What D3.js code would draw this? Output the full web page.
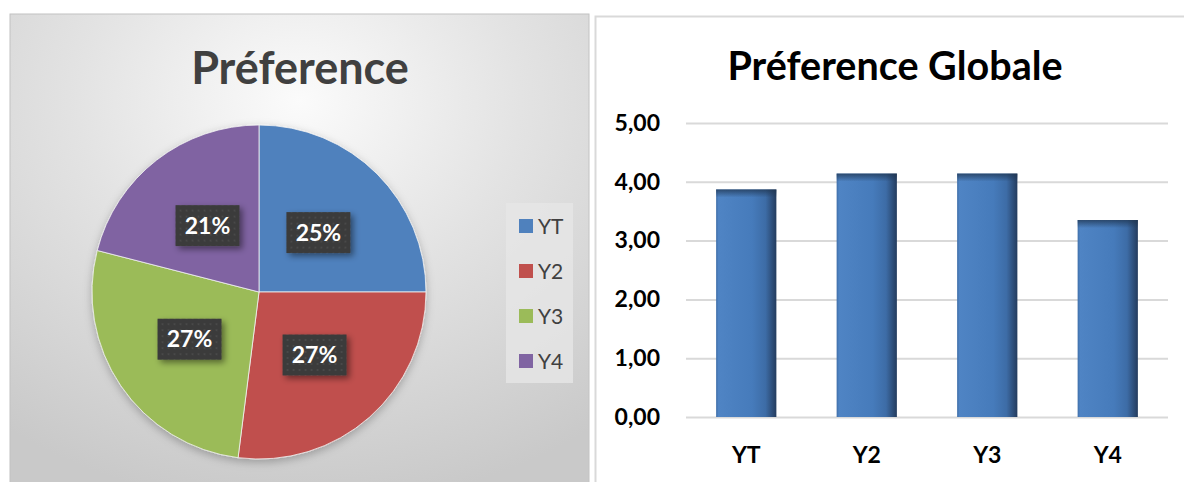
<!DOCTYPE html>
<html>
<head>
<meta charset="utf-8">
<script src="https://cdn.jsdelivr.net/npm/d3@7"></script>
<style>
  html, body { margin: 0; padding: 0; background: #fff; }
  svg { display: block; font-family: Lato, "Open Sans", sans-serif; }
</style>
</head>
<body>
<svg id="chart" width="1184" height="482"></svg>
<script>
// data
var categories = ['YT', 'Y2', 'Y3', 'Y4'];
var pieShares = [25, 27, 27, 21];          // % shown on the pie
var barValues = [3.87, 4.14, 4.14, 3.35];  // Préference Globale
var yTicks = [0, 1, 2, 3, 4, 5];
var pieColors = ['#4f81bd', '#c0504d', '#9bbb59', '#8064a2'];

var svg = d3.select('#chart');
var defs = svg.append('defs');

// background of left panel
var bg = defs.append('radialGradient').attr('id', 'panelBg')
	.attr('cx', 0.5).attr('cy', 0.18).attr('r', 0.85)
	.attr('gradientUnits', 'objectBoundingBox');
bg.append('stop').attr('offset', '0%').attr('stop-color', '#fbfbfb');
bg.append('stop').attr('offset', '45%').attr('stop-color', '#e3e3e3');
bg.append('stop').attr('offset', '100%').attr('stop-color', '#c9c9c9');

// dotted dark label boxes
var pat = defs.append('pattern').attr('id', 'dots')
	.attr('width', 6).attr('height', 6).attr('patternUnits', 'userSpaceOnUse');
pat.append('rect').attr('width', 6).attr('height', 6).attr('fill', '#3a3a3a');
pat.append('circle').attr('cx', 3).attr('cy', 3).attr('r', 1).attr('fill', '#4c4c4c');

var sh = defs.append('filter').attr('id', 'shadow')
	.attr('x', '-30%').attr('y', '-30%').attr('width', '170%').attr('height', '170%');
sh.append('feDropShadow').attr('dx', 3).attr('dy', 3).attr('stdDeviation', 3)
	.attr('flood-color', '#000').attr('flood-opacity', 0.45);

var pieSh = defs.append('filter').attr('id', 'pieShadow')
	.attr('x', '-10%').attr('y', '-10%').attr('width', '120%').attr('height', '125%');
pieSh.append('feDropShadow').attr('dx', 0).attr('dy', 3).attr('stdDeviation', 4)
	.attr('flood-color', '#000').attr('flood-opacity', 0.25);

// bar shading
var barGrad = defs.append('linearGradient').attr('id', 'barGrad')
	.attr('x1', 0).attr('x2', 1).attr('y1', 0).attr('y2', 0);
[['0%', '#3f6ea8'], ['4%', '#4f84c4'], ['60%', '#467bbb'], ['82%', '#3d6ca6'], ['100%', '#243c5e']]
	.forEach(function (s) { barGrad.append('stop').attr('offset', s[0]).attr('stop-color', s[1]); });
var barTop = defs.append('linearGradient').attr('id', 'barTop')
	.attr('x1', 0).attr('x2', 0).attr('y1', 0).attr('y2', 1);
barTop.append('stop').attr('offset', '0%').attr('stop-color', '#1f3550').attr('stop-opacity', 0.75);
barTop.append('stop').attr('offset', '100%').attr('stop-color', '#1f3550').attr('stop-opacity', 0);

// ---------- left panel : pie ----------
svg.append('rect')
	.attr('x', 10).attr('y', 14).attr('width', 579).attr('height', 480)
	.attr('fill', 'url(#panelBg)')
	.attr('stroke', '#c2c2c2').attr('stroke-width', 1);

svg.append('text')
	.attr('x', 300).attr('y', 84)
	.attr('text-anchor', 'middle')
	.style('font-size', '45px').style('font-weight', 700)
	.attr('fill', '#404040')
	.text('Préference');

var cx = 259, cy = 292, radius = 167;
var pie = d3.pie().sort(null).value(function (d) { return d; });
var arc = d3.arc().innerRadius(0).outerRadius(radius);
var labelArc = d3.arc().innerRadius(84).outerRadius(84);
var slices = pie(pieShares);

var pieG = svg.append('g').attr('transform', 'translate(' + cx + ',' + cy + ')');
pieG.append('g').attr('filter', 'url(#pieShadow)')
	.selectAll('path')
	.data(slices)
	.enter().append('path')
	.attr('d', arc)
	.attr('fill', function (d, i) { return pieColors[i]; })
	.attr('stroke', '#f2f2f2').attr('stroke-width', 0.8);

var lbl = pieG.selectAll('.lbl')
	.data(slices)
	.enter().append('g')
	.attr('class', 'lbl')
	.attr('transform', function (d) { var c = labelArc.centroid(d); return 'translate(' + c[0] + ',' + c[1] + ')'; });
lbl.append('rect')
	.attr('x', -32).attr('y', -20.5).attr('width', 64).attr('height', 41)
	.attr('fill', 'url(#dots)')
	.attr('filter', 'url(#shadow)');
lbl.append('text')
	.attr('text-anchor', 'middle').attr('dy', '0.36em')
	.attr('fill', '#fff')
	.style('font-size', '23px').style('font-weight', 700)
	.text(function (d) { return d.data + '%'; });

// legend
svg.append('rect')
	.attr('x', 506).attr('y', 203).attr('width', 67).attr('height', 180)
	.attr('fill', '#e6e6e6').attr('opacity', 0.8);
var legendY = d3.scalePoint().domain(categories).range([226, 361]);
var leg = svg.selectAll('.leg')
	.data(categories)
	.enter().append('g')
	.attr('class', 'leg')
	.attr('transform', function (d) { return 'translate(519,' + legendY(d) + ')'; });
leg.append('rect')
	.attr('x', 0).attr('y', -7).attr('width', 14).attr('height', 14)
	.attr('fill', function (d, i) { return pieColors[i]; });
leg.append('text')
	.attr('x', 19).attr('dy', '0.36em')
	.attr('fill', '#404040')
	.style('font-size', '21px')
	.text(function (d) { return d; });

// ---------- right panel : bars ----------
svg.append('path')
	.attr('d', 'M595.5,482V16.5H1184')
	.attr('fill', 'none').attr('stroke', '#d9d9d9').attr('stroke-width', 2);

svg.append('text')
	.attr('x', 895).attr('y', 80)
	.attr('text-anchor', 'middle')
	.style('font-size', '39.5px').style('font-weight', 700)
	.attr('fill', '#000')
	.text('Préference Globale');

var x = d3.scaleBand().domain(categories).range([686, 1168])
	.paddingInner(0.5).paddingOuter(0.25);
var y = d3.scaleLinear().domain([0, 5]).range([417, 123]);

var fr = d3.formatLocale({ decimal: ',', thousands: ' ', grouping: [3], currency: ['', ' €'] });
var fmt = fr.format('.2f');

// gridlines
svg.append('g')
	.attr('transform', 'translate(686,0)')
	.call(d3.axisLeft(y).tickValues(yTicks).tickSize(-482).tickFormat(''))
	.call(function (g) {
		g.select('.domain').remove();
		g.selectAll('line').attr('stroke', '#d9d9d9').attr('stroke-width', 2);
	});

// bars
var bars = svg.selectAll('.bar')
	.data(barValues)
	.enter().append('g')
	.attr('class', 'bar');
bars.append('rect')
	.attr('x', function (d, i) { return x(categories[i]); })
	.attr('y', function (d) { return y(d); })
	.attr('width', x.bandwidth())
	.attr('height', function (d) { return y(0) - y(d); })
	.attr('fill', 'url(#barGrad)');
bars.append('rect')
	.attr('x', function (d, i) { return x(categories[i]); })
	.attr('y', function (d) { return y(d); })
	.attr('width', x.bandwidth())
	.attr('height', 8)
	.attr('fill', 'url(#barTop)');

// y labels
svg.append('g')
	.attr('transform', 'translate(686,0)')
	.call(d3.axisLeft(y).tickValues(yTicks).tickSize(0).tickPadding(26).tickFormat(fmt))
	.call(function (g) {
		g.select('.domain').remove();
		g.selectAll('text')
			.attr('fill', '#000')
			.style('font-family', 'Lato, sans-serif')
			.style('font-size', '23px').style('font-weight', 700);
	});

// x labels
svg.append('g')
	.attr('transform', 'translate(0,417)')
	.call(d3.axisBottom(x).tickSize(0).tickPadding(30))
	.call(function (g) {
		g.select('.domain').remove();
		g.selectAll('text')
			.attr('fill', '#000')
			.style('font-family', 'Lato, sans-serif')
			.style('font-size', '23px').style('font-weight', 700);
	});
</script>
</body>
</html>
